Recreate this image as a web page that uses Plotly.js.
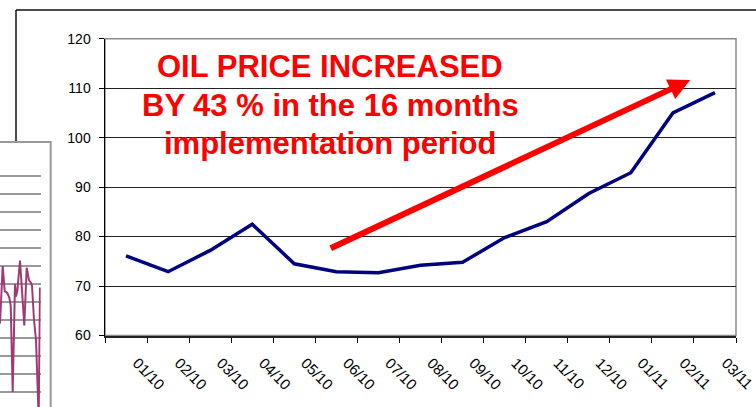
<!DOCTYPE html>
<html>
<head>
<meta charset="utf-8">
<script src="https://cdn.plot.ly/plotly-3.0.1.min.js"></script>
<style>html,body{margin:0;padding:0;background:#fff;}#chart{width:756px;height:407px;}</style>
</head>
<body>
<div id="chart"></div>
<script>
// Main chart: monthly oil price
const months = ["01/10","02/10","03/10","04/10","05/10","06/10","07/10","08/10","09/10","10/10","11/10","12/10","01/11","02/11","03/11"];
const oilPrice = [76.1, 72.9, 77.2, 82.5, 74.5, 72.9, 72.7, 74.2, 74.8, 79.8, 83.0, 88.7, 92.9, 105.0, 109.1];
const yTicks = [60, 70, 80, 90, 100, 110, 120];

// Trend arrow (category index, price)
const arrowFrom = [4.83, 77.5];
const arrowTo = [13.41, 111.65];
const noteLines = ["OIL PRICE INCREASED", "BY 43 % in the 16 months", "implementation period"];

// Partially visible chart fragment on the left
const insetX = [0, 2.7, 4.7, 7.3, 9.3, 10.7, 12.7, 15, 16, 17.3, 20, 24.3, 26.7, 29, 30.7, 32, 34, 36, 38.7, 40];
const insetY = [48, 80, 66, 65, 62.5, 58, 10, 70, 63, 66, 83, 47, 79, 72, 71, 69, 50, 39, -5, 68];

const W = 756, H = 407;
const px = x => x / W;
const py = y => 1 - y / H;

const traces = [
  {
    x: months, y: oilPrice, type: 'scatter', mode: 'lines',
    line: {color: '#000080', width: 3.5},
    xaxis: 'x', yaxis: 'y', hoverinfo: 'skip'
  },
  {
    x: insetX, y: insetY, type: 'scatter', mode: 'lines',
    line: {color: '#a03a74', width: 2},
    xaxis: 'x2', yaxis: 'y2', hoverinfo: 'skip', cliponaxis: true
  }
];

const fontFam = '"Liberation Sans", Arial, sans-serif';

const annotations = [
  {
    x: arrowTo[0], y: arrowTo[1], xref: 'x', yref: 'y',
    ax: arrowFrom[0], ay: arrowFrom[1], axref: 'x', ayref: 'y',
    showarrow: true, arrowhead: 2, arrowsize: 0.72, arrowwidth: 6,
    arrowcolor: '#ff0000', text: '', standoff: 0, startstandoff: 0
  }
];
const lineY = [66.5, 105.5, 143.5];
noteLines.forEach((t, i) => annotations.push({
  text: t, xref: 'paper', yref: 'paper', x: px(330), y: py(lineY[i]),
  xanchor: 'center', yanchor: 'middle', showarrow: false,
  font: {family: fontFam, size: 31, color: '#ff0000', weight: 'bold'}
}));

const layout = {
  width: W, height: H,
  margin: {l: 0, r: 0, t: 0, b: 0, pad: 0},
  paper_bgcolor: '#ffffff', plot_bgcolor: '#ffffff',
  showlegend: false,
  font: {family: fontFam, color: '#000'},
  xaxis: {
    domain: [px(105), px(736)],
    type: 'category', range: [-0.5, 14.5],
    tickson: 'boundaries', ticks: 'outside', ticklen: 5, tickcolor: '#000', tickwidth: 1,
    tickangle: 45, tickfont: {size: 15, color: '#000', family: fontFam},
    ticklabelshift: 11, ticklabelstandoff: 11,
    showline: true, linecolor: '#222', linewidth: 2,
    showgrid: false, zeroline: false, fixedrange: true
  },
  yaxis: {
    domain: [py(335.5), py(38.7)],
    range: [60, 120], tickvals: yTicks,
    ticks: 'outside', ticklen: 5, tickcolor: '#000', tickwidth: 1,
    ticklabelstandoff: 5,
    tickfont: {size: 14, color: '#000', family: fontFam},
    showline: true, linecolor: '#000', linewidth: 1.5,
    showgrid: true, gridcolor: '#222', gridwidth: 1,
    zeroline: false, fixedrange: true
  },
  xaxis2: {
    domain: [0, px(40.7)], range: [0, 40.7],
    showgrid: false, showticklabels: false, ticks: '', showline: false, zeroline: false,
    anchor: 'y2', fixedrange: true
  },
  yaxis2: {
    domain: [0, py(165)], range: [1.667, 136.1],
    tick0: 0, dtick: 10, showgrid: true, gridcolor: '#9a9a9a', gridwidth: 1.3,
    showticklabels: false, ticks: '', showline: false, zeroline: false,
    anchor: 'x2', fixedrange: true
  },
  shapes: [
    {type: 'rect', xref: 'x domain', yref: 'y domain', x0: 0, x1: 1, y0: 0, y1: 1,
     line: {color: '#8a8a8a', width: 1.5}, layer: 'below'},
    {type: 'line', xref: 'paper', yref: 'paper', x0: px(16), x1: 1, y0: py(10), y1: py(10),
     line: {color: '#111', width: 1.5}},
    {type: 'line', xref: 'paper', yref: 'paper', x0: px(16), x1: px(16), y0: py(10), y1: py(142),
     line: {color: '#111', width: 1.5}},
    {type: 'path', xref: 'paper', yref: 'paper',
     path: `M0,${py(142)} L${px(50.7)},${py(142)} L${px(50.7)},0`,
     line: {color: '#999', width: 2}}
  ],
  annotations: annotations
};

Plotly.newPlot('chart', traces, layout, {staticPlot: true, displayModeBar: false});
</script>
</body>
</html>
